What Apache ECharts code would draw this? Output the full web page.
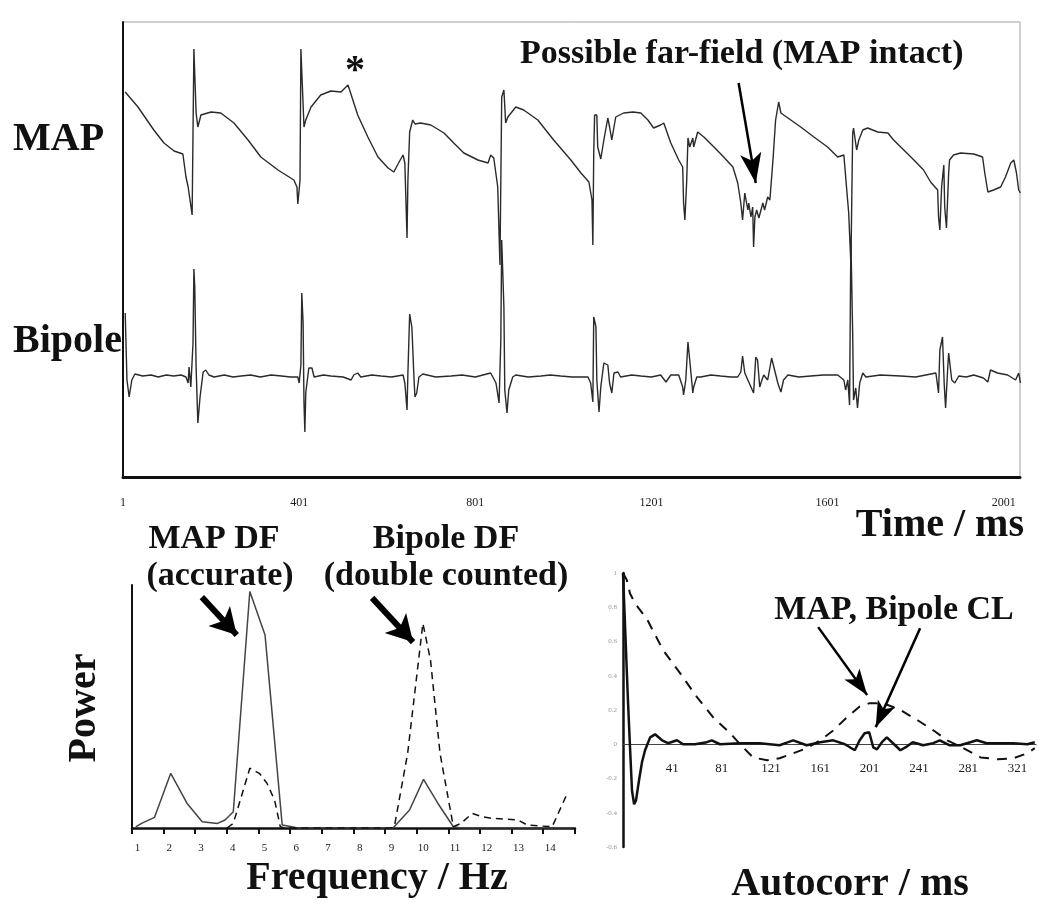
<!DOCTYPE html>
<html><head><meta charset="utf-8">
<script src="https://cdn.jsdelivr.net/npm/echarts@6/dist/echarts.min.js"></script>
<style>html,body{margin:0;padding:0;background:#fff}#c{width:1050px;height:912px}</style>
</head><body><div id="c"></div>
<script>
// ---------- Top panel: time traces (t in ms from first sample, amplitude in arbitrary units) ----------
const timeTickValues = [0, 400, 800, 1200, 1600, 2000];
const timeTickLabels = ['1', '401', '801', '1201', '1601', '2001'];

const mapTrace = [
[5,385],[34,370],[70,347],[93,334],[116,326],[136,323],[143,300],[148,290],[152,291],[157,262],[161,428],[163,428],[166,364],[170,350],[177,362],[200,365],[222,364],[252,354],[284,337],[313,320],[352,307],[388,297],[395,290],[397,273],[402,297],[404,428],[406,428],[411,350],[415,357],[427,370],[449,382],[472,386],[495,385],[511,392],[522,377],[533,362],[556,340],[579,320],[602,309],[615,305],[627,315],[636,322],[640,314],[645,239],[647,297],[651,345],[658,357],[663,353],[676,354],[699,352],[729,344],[751,334],[774,324],[806,317],[829,314],[835,322],[842,319],[851,290],[856,212],[860,380],[865,387],[869,354],[874,360],[892,370],[910,367],[942,357],[978,337],[1017,317],[1040,304],[1058,295],[1065,277],[1067,232],[1069,324],[1071,362],[1076,362],[1078,330],[1085,318],[1092,337],[1101,359],[1105,350],[1110,337],[1115,350],[1119,360],[1137,364],[1158,365],[1176,364],[1192,357],[1205,349],[1221,352],[1228,354],[1244,334],[1262,317],[1271,310],[1273,274],[1276,257],[1280,295],[1283,339],[1287,330],[1294,339],[1296,330],[1305,345],[1319,340],[1342,330],[1364,320],[1385,310],[1396,294],[1403,274],[1407,257],[1412,284],[1419,267],[1421,274],[1426,260],[1430,270],[1432,230],[1435,260],[1439,267],[1444,259],[1453,274],[1457,267],[1464,280],[1469,277],[1476,317],[1482,357],[1489,375],[1494,364],[1510,359],[1539,350],[1569,340],[1600,330],[1623,320],[1637,322],[1643,290],[1648,264],[1653,212],[1657,344],[1659,349],[1666,327],[1671,337],[1680,347],[1691,349],[1714,345],[1737,344],[1750,337],[1773,327],[1796,317],[1818,307],[1834,295],[1850,287],[1852,260],[1855,247],[1859,290],[1864,312],[1866,270],[1870,249],[1875,304],[1877,317],[1886,322],[1902,324],[1932,323],[1952,320],[1957,304],[1964,285],[1977,287],[1993,290],[2004,300],[2016,314],[2023,317],[2029,304],[2034,287],[2038,284]
];

const bipoleTrace = [
[5,164],[9,97],[14,80],[20,97],[27,103],[45,101],[64,102],[80,100],[98,102],[115,101],[132,102],[143,100],[148,94],[150,110],[154,90],[159,134],[161,208],[163,190],[166,110],[170,54],[175,80],[182,105],[188,107],[195,102],[207,100],[230,102],[250,100],[268,101],[290,102],[312,100],[336,102],[360,101],[380,100],[397,100],[400,94],[404,112],[406,184],[409,154],[411,74],[413,45],[415,84],[422,109],[429,109],[434,100],[455,102],[472,101],[500,100],[518,97],[524,102],[533,104],[540,100],[565,102],[586,101],[610,100],[636,102],[640,94],[645,67],[647,104],[651,163],[656,150],[661,97],[663,80],[667,84],[672,100],[681,103],[710,100],[745,101],[770,102],[800,100],[835,104],[847,94],[854,74],[858,137],[860,237],[865,170],[867,87],[872,64],[876,87],[885,100],[892,102],[920,100],[949,101],[970,102],[994,101],[1020,100],[1056,100],[1062,94],[1067,75],[1069,160],[1074,150],[1076,97],[1081,65],[1085,90],[1092,114],[1101,112],[1105,94],[1110,84],[1115,104],[1124,105],[1130,100],[1155,102],[1176,101],[1200,100],[1221,102],[1233,95],[1244,102],[1262,102],[1271,90],[1273,82],[1278,97],[1283,135],[1287,117],[1294,84],[1296,90],[1303,100],[1312,100],[1335,102],[1357,101],[1380,100],[1396,100],[1403,105],[1407,121],[1412,104],[1419,97],[1426,90],[1432,84],[1437,120],[1441,117],[1446,90],[1451,97],[1455,102],[1464,97],[1473,119],[1478,110],[1487,94],[1494,85],[1500,97],[1510,102],[1535,100],[1562,101],[1590,102],[1623,102],[1637,97],[1641,87],[1646,97],[1650,72],[1652,187],[1653,237],[1657,144],[1659,77],[1664,89],[1668,69],[1673,94],[1680,104],[1687,100],[1720,102],[1766,101],[1800,100],[1846,104],[1852,84],[1855,127],[1861,140],[1865,92],[1868,69],[1873,110],[1875,124],[1882,97],[1889,94],[1898,101],[1915,100],[1932,102],[1954,99],[1964,95],[1970,107],[1986,104],[2009,102],[2027,97],[2034,104],[2038,94]
];

// ---------- Bottom-left: power spectra (frequency Hz, power arbitrary units) ----------
const freqLabelValues = [1,2,3,4,5,6,7,8,9,10,11,12,13,14];
const freqTickLabels = ['1','2','3','4','5','6','7','8','9','10','11','12','13','14'];
const freqTickMarks = [0.83,1.82,2.82,3.82,4.81,5.81,6.81,7.8,8.8,9.79,10.79,11.79,12.79,13.78,14.78];

const mapSpectrum = [
[0.95,0.5],[1.13,1.9],[1.54,4.4],[2.05,22.5],[2.56,10.2],[3.04,2.6],[3.52,1.9],[3.76,3.3],[4.02,6.7],[4.54,97.3],[5.02,79.4],[5.56,1.2],[5.86,0.5],[6.05,0],[9.05,0],[9.57,7.4],[10.01,20],[10.46,10.2],[10.95,0.5],[11.2,0],[14.7,0]
];
const bipoleSpectrum = [
[3.82,0],[4.02,1.9],[4.54,24.6],[4.84,22.5],[5.08,18.4],[5.32,11.5],[5.5,0.5],[5.65,0],[9.0,0],[9.09,0.5],[9.51,30.7],[9.99,84.2],[10.23,69.1],[10.53,30.7],[10.95,0.5],[11.19,1.9],[11.54,6],[11.84,4.7],[12.14,4.0],[12.98,3.3],[13.28,1.2],[14.06,0.5],[14.54,14.3]
];

// ---------- Bottom-right: autocorrelation (lag ms, r) ----------
const lagTickValues = [41,81,121,161,201,241,281,321];
const lagTickLabels = ['41','81','121','161','201','241','281','321'];
const corrTickValues = [-0.6,-0.4,-0.2,0,0.2,0.4,0.6,0.8,1];
const corrTickLabels = ['-0.6','-0.4','-0.2','0','0.2','0.4','0.6','0.8','1'];

const mapAutocorr = [
[1,1.0],[4,0.96],[6.7,0.88],[11,0.82],[20.5,0.73],[33.5,0.55],[47.3,0.415],[61,0.275],[74,0.158],[88,0.064],[96,0.0],[106.5,-0.077],[118,-0.094],[128,-0.082],[139,-0.053],[150,-0.023],[161,0.023],[171.5,0.08],[183,0.16],[193,0.22],[201,0.24],[212,0.24],[226,0.2],[240,0.14],[253,0.08],[264,0.023],[277,-0.023],[291,-0.077],[305,-0.088],[317.5,-0.082],[329,-0.053],[335,-0.023]
];
const bipoleAutocorr = [
[1,1.0],[2.6,0.99],[5,0.26],[6.7,-0.02],[8.3,-0.27],[10,-0.35],[11.5,-0.33],[14,-0.21],[16.4,-0.105],[18.9,-0.035],[20.5,-0.006],[23,0.04],[27,0.058],[32.7,0.023],[37.5,0.006],[44.8,0.023],[49.7,0],[59.4,0],[69,0.012],[73,0.023],[79.7,0],[96,0.006],[112,0.006],[128,-0.006],[135,0.012],[139,0.023],[150,-0.006],[161,0.012],[171.5,0.023],[181,0],[189,-0.035],[193,0.023],[197,0.064],[200.7,0.07],[204,-0.018],[207,-0.03],[211,0.012],[215,0.04],[220,0.006],[226,-0.035],[231.5,-0.012],[236,0.012],[244.5,-0.006],[252.6,0.006],[258,0.023],[266,-0.006],[274.5,-0.006],[282.7,0.012],[288,0.023],[296,0.006],[307,0.006],[317.5,0.006],[329,0],[335,0.012]
];

// ---------- chart ----------
const FONT = '"Liberation Serif", "Times New Roman", serif';
function txt(text, x, y, size, align, extra) {
  return Object.assign({
    type: 'text', x: x, y: y, z: 100,
    style: { text: text, font: 'bold ' + size + 'px ' + FONT, fill: '#111', align: align, verticalAlign: 'middle' }
  }, extra || {});
}
function arrow(coordFrom, coordTo, width, size) {
  return {
    silent: true, animation: false,
    symbol: ['none', 'arrow'], symbolSize: size,
    lineStyle: { color: '#000', width: width, type: 'solid' },
    label: { show: false }, emphasis: { disabled: true },
    data: [[{ coord: coordFrom }, { coord: coordTo }]]
  };
}

const chart = echarts.init(document.getElementById('c'), null, { renderer: 'canvas' });
chart.setOption({
  animation: false,
  backgroundColor: '#fff',
  textStyle: { fontFamily: FONT },
  grid: [
    { left: 123, right: 30, top: 22, bottom: 435, show: true, borderColor: '#a0a0a0', borderWidth: 1 },
    { left: 132, right: 475, top: 585, bottom: 84 },
    { left: 623, right: 14, top: 573, bottom: 65 }
  ],
  xAxis: [
    { gridIndex: 0, type: 'value', min: 0, max: 2037,
      axisLine: { show: true, lineStyle: { color: '#111', width: 3 } },
      axisTick: { show: false }, splitLine: { show: false },
      axisLabel: { customValues: timeTickValues, margin: 20, fontSize: 12, color: '#222', fontFamily: FONT,
        formatter: v => timeTickLabels[timeTickValues.indexOf(v)] } },
    { gridIndex: 1, type: 'value', min: 0.83, max: 14.78,
      axisLine: { show: true, onZero: false, lineStyle: { color: '#111', width: 2.5 } },
      axisTick: { show: true, customValues: freqTickMarks, length: 6, lineStyle: { color: '#111', width: 2 } },
      splitLine: { show: false },
      axisLabel: { customValues: freqLabelValues, margin: 15, fontSize: 11, color: '#222', fontFamily: FONT,
        formatter: v => freqTickLabels[freqLabelValues.indexOf(v)] } },
    { gridIndex: 2, type: 'value', min: 1, max: 336, position: 'bottom', offset: -103,
      axisLine: { show: true, onZero: false, lineStyle: { color: '#444', width: 1.2 } },
      axisTick: { show: false }, splitLine: { show: false },
      axisLabel: { customValues: lagTickValues, margin: 18, fontSize: 13, color: '#222', fontFamily: FONT,
        formatter: v => lagTickLabels[lagTickValues.indexOf(v)] } }
  ],
  yAxis: [
    { gridIndex: 0, type: 'value', min: 0, max: 455,
      axisLine: { show: true, lineStyle: { color: '#111', width: 2 } },
      axisTick: { show: false }, axisLabel: { show: false }, splitLine: { show: false } },
    { gridIndex: 1, type: 'value', min: 0, max: 100,
      axisLine: { show: true, lineStyle: { color: '#111', width: 2 } },
      axisTick: { show: false }, axisLabel: { show: false }, splitLine: { show: false } },
    { gridIndex: 2, type: 'value', min: -0.6, max: 1,
      axisLine: { show: true, onZero: false, lineStyle: { color: '#111', width: 2.5 } },
      axisTick: { show: false }, splitLine: { show: false },
      axisLabel: { customValues: corrTickValues, margin: 6, fontSize: 7, color: '#999', fontFamily: FONT,
        formatter: v => corrTickLabels[corrTickValues.findIndex(c => Math.abs(c - v) < 1e-6)] } }
  ],
  series: [
    { name: 'MAP', type: 'line', xAxisIndex: 0, yAxisIndex: 0, data: mapTrace, showSymbol: false, symbol: 'none',
      lineStyle: { color: '#2a2a2a', width: 1.4 },
      markLine: arrow([1398, 394], [1437, 294], 2.5, [16, 30]) },
    { name: 'Bipole', type: 'line', xAxisIndex: 0, yAxisIndex: 0, data: bipoleTrace, showSymbol: false, symbol: 'none',
      lineStyle: { color: '#2a2a2a', width: 1.4 } },
    { name: 'MAP spectrum', type: 'line', xAxisIndex: 1, yAxisIndex: 1, data: mapSpectrum, showSymbol: false, symbol: 'none',
      lineStyle: { color: '#444', width: 1.5 },
      markLine: { silent: true, animation: false, symbol: ['none', 'arrow'], symbolSize: [22, 26],
        lineStyle: { color: '#000', width: 6, type: 'solid' }, label: { show: false },
        data: [ [{ coord: [3.03, 95] }, { coord: [4.13, 79.4] }],
                [{ coord: [8.39, 94.7] }, { coord: [9.68, 76.5] }] ] } },
    { name: 'Bipole spectrum', type: 'line', xAxisIndex: 1, yAxisIndex: 1, data: bipoleSpectrum, showSymbol: false, symbol: 'none',
      lineStyle: { color: '#111', width: 1.5, type: [7, 5] } },
    { name: 'MAP autocorr', type: 'line', xAxisIndex: 2, yAxisIndex: 2, data: mapAutocorr, showSymbol: false, symbol: 'none',
      lineStyle: { color: '#111', width: 2, type: [10, 8] } },
    { name: 'Bipole autocorr', type: 'line', xAxisIndex: 2, yAxisIndex: 2, data: bipoleAutocorr, showSymbol: false, symbol: 'none',
      lineStyle: { color: '#111', width: 2.5 },
      markLine: { silent: true, animation: false, symbol: ['none', 'arrow'], symbolSize: [14, 26],
        lineStyle: { color: '#000', width: 2.5, type: 'solid' }, label: { show: false },
        data: [ [{ coord: [159.3, 0.684] }, { coord: [199, 0.287] }],
                [{ coord: [242, 0.678] }, { coord: [206, 0.1] }] ] } }
  ],
  graphic: [
    txt('MAP', 13, 140, 40, 'left'),
    txt('Bipole', 13, 342, 40, 'left'),
    txt('*', 355, 72, 40, 'center'),
    txt('Possible far-field (MAP intact)', 520, 54, 34, 'left'),
    txt('Time / ms', 1024, 526, 40, 'right'),
    txt('MAP DF', 214, 539, 34, 'center'),
    txt('(accurate)', 220, 576, 34, 'center'),
    txt('Bipole DF', 446, 539, 34, 'center'),
    txt('(double counted)', 446, 576, 34, 'center'),
    txt('Power', 85, 708, 40, 'center', { rotation: Math.PI / 2 }),
    txt('Frequency / Hz', 377, 879, 40, 'center'),
    txt('MAP, Bipole CL', 894, 610, 34, 'center'),
    txt('Autocorr / ms', 850, 885, 40, 'center')
  ]
});
</script>
</body></html>
